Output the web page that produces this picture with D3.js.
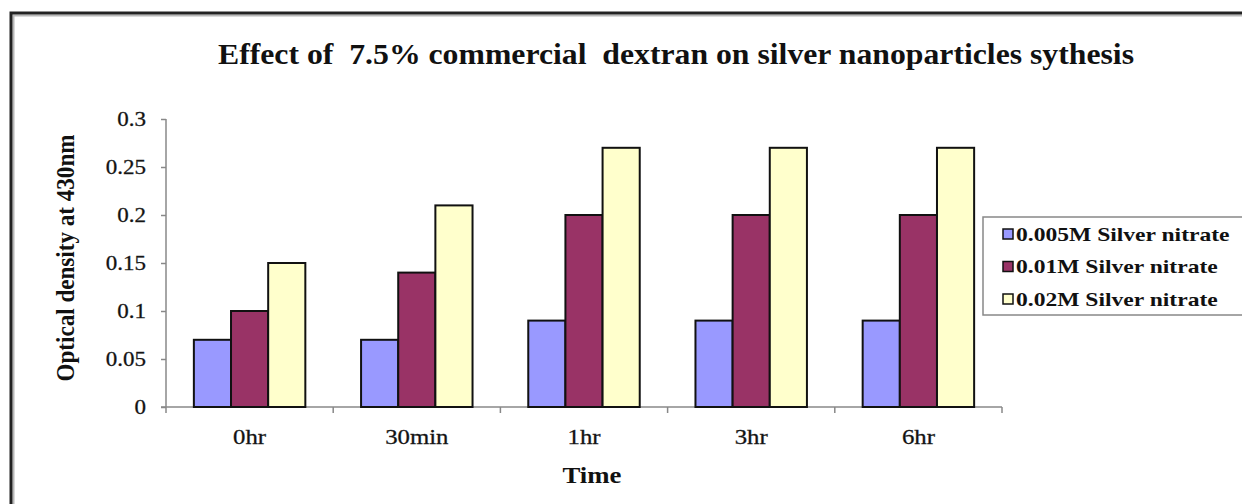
<!DOCTYPE html>
<html>
<head>
<meta charset="utf-8">
<script src="https://cdn.jsdelivr.net/npm/d3@7"></script>
<style>
  html, body { margin: 0; padding: 0; background: #fff; }
  svg { display: block; }
  text { font-family: "Liberation Serif", "Times New Roman", serif; fill: #111; }
</style>
</head>
<body>
<svg id="chart" width="1242" height="504"></svg>
<script>
// Sampling times and optical density readings at 430 nm
const categories = ["0hr", "30min", "1hr", "3hr", "6hr"];
const seriesNames = ["0.005M Silver nitrate", "0.01M Silver nitrate", "0.02M Silver nitrate"];
const od005 = [0.07, 0.07, 0.09, 0.09, 0.09];
const od01  = [0.10, 0.14, 0.20, 0.20, 0.20];
const od02  = [0.15, 0.21, 0.27, 0.27, 0.27];
const yTicks = [0, 0.05, 0.1, 0.15, 0.2, 0.25, 0.3];
const yTickLabels = ["0", "0.05", "0.1", "0.15", "0.2", "0.25", "0.3"];
const colors = ["#9999FF", "#993366", "#FFFFCC"];

const seriesValues = [od005, od01, od02];

const svg = d3.select("#chart");

// Outer chart frame
svg.append("rect").attr("x", 13.5).attr("y", 15.5).attr("width", 1240).attr("height", 500)
  .attr("fill", "none").attr("stroke", "#b8b8b8").attr("stroke-width", 2);
svg.append("rect").attr("x", 11).attr("y", 13).attr("width", 1240).attr("height", 500)
  .attr("fill", "none").attr("stroke", "#222").attr("stroke-width", 3);

// Plot area
const plot = { left: 166, right: 1002, top: 119, bottom: 407 };

const x0 = d3.scaleBand().domain(categories).range([plot.left, plot.right]).paddingInner(0).paddingOuter(0);
const x1 = d3.scaleBand().domain(d3.range(seriesNames.length))
  .range([0, x0.bandwidth()]).paddingOuter(0.75).paddingInner(0);
const y = d3.scaleLinear().domain([0, 0.3]).range([plot.bottom, plot.top]);

// Stretch helper: widens text glyphs horizontally
function stretch(sel, k) {
  sel.each(function () {
    const w = this.getComputedTextLength();
    d3.select(this).attr("textLength", w * k).attr("lengthAdjust", "spacingAndGlyphs");
  });
}

// Y axis
const yAxis = svg.append("g").attr("transform", `translate(${plot.left},0)`)
  .call(d3.axisLeft(y).tickValues(yTicks).tickFormat((d, i) => yTickLabels[i]).tickSize(5).tickPadding(15));
yAxis.select(".domain").attr("stroke", "#888").attr("stroke-width", 1.5).attr("d", `M0,${plot.top}V${plot.bottom}`);
yAxis.selectAll(".tick line").attr("stroke", "#888").attr("stroke-width", 1.5);
yAxis.selectAll(".tick text").attr("font-size", 20).attr("fill", "#222").attr("dy", "0.34em")
  .attr("stroke", "#222").attr("stroke-width", 0.3);
stretch(yAxis.selectAll(".tick text"), 1.15);

// X axis: ticks at category boundaries
const xAxis = svg.append("g").attr("transform", `translate(0,${plot.bottom})`)
  .call(d3.axisBottom(x0).tickSize(0).tickPadding(22));
xAxis.select(".domain").attr("stroke", "#888").attr("stroke-width", 1.5).attr("d", `M${plot.left - 5},0H${plot.right}`);
xAxis.selectAll(".tick text").attr("font-size", 21).attr("fill", "#222")
  .attr("stroke", "#222").attr("stroke-width", 0.3);
stretch(xAxis.selectAll(".tick text"), 1.18);
const bounds = categories.map(c => x0(c)).concat([plot.right]);
xAxis.selectAll(".bound").data(bounds).join("line").attr("class", "bound")
  .attr("x1", d => d).attr("x2", d => d).attr("y1", 0).attr("y2", 6)
  .attr("stroke", "#888").attr("stroke-width", 1.5);

// Bars
const groups = svg.append("g").selectAll("g").data(categories).join("g")
  .attr("transform", d => `translate(${x0(d)},0)`);
groups.selectAll("rect")
  .data((c, ci) => seriesValues.map((vals, si) => ({ si, v: vals[ci] })))
  .join("rect")
  .attr("x", d => x1(d.si))
  .attr("width", x1.bandwidth())
  .attr("y", d => y(d.v))
  .attr("height", d => y(0) - y(d.v))
  .attr("fill", d => colors[d.si])
  .attr("stroke", "#111").attr("stroke-width", 2);

// Title
svg.append("text").attr("x", 676).attr("y", 64).attr("text-anchor", "middle")
  .attr("font-size", 30).attr("font-weight", "bold")
  .attr("textLength", 916).attr("lengthAdjust", "spacingAndGlyphs")
  .text("Effect of  7.5% commercial  dextran on silver nanoparticles sythesis")
  .style("white-space", "pre");

// Axis titles
svg.append("text").attr("transform", `translate(74,${(plot.top + plot.bottom) / 2 - 5}) rotate(-90)`)
  .attr("text-anchor", "middle").attr("font-size", 25).attr("font-weight", "bold")
  .attr("textLength", 247).attr("lengthAdjust", "spacingAndGlyphs")
  .text("Optical density at 430nm");
svg.append("text").attr("x", 592).attr("y", 483).attr("text-anchor", "middle")
  .attr("font-size", 24).attr("font-weight", "bold")
  .attr("textLength", 59).attr("lengthAdjust", "spacingAndGlyphs")
  .text("Time");

// Legend
const legend = svg.append("g");
legend.append("rect").attr("x", 983).attr("y", 217).attr("width", 262).attr("height", 98)
  .attr("fill", "#fff").attr("stroke", "#888").attr("stroke-width", 1.5);
const rowY = d3.scalePoint().domain(d3.range(seriesNames.length)).range([234, 299]);
const items = legend.selectAll(".item").data(seriesNames).join("g").attr("class", "item")
  .attr("transform", (d, i) => `translate(1003,${rowY(i)})`);
items.append("rect").attr("x", 0).attr("y", -5).attr("width", 10).attr("height", 10)
  .attr("fill", (d, i) => colors[i]).attr("stroke", "#111").attr("stroke-width", 1.5);
items.append("text").attr("x", 13).attr("y", 0).attr("dy", "0.35em")
  .attr("font-size", 19).attr("font-weight", "bold").attr("fill", "#222")
  .text(d => d);
stretch(items.selectAll("text"), 1.24);
</script>
</body>
</html>
